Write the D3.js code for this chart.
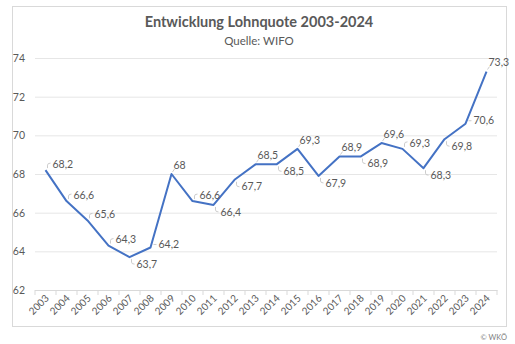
<!DOCTYPE html>
<html><head><meta charset="utf-8">
<script src="https://cdn.jsdelivr.net/npm/d3@7"></script>
<style>body{margin:0;background:#fff}svg{display:block}text{font-family:Lato,"Open Sans",sans-serif}</style>
</head><body><svg id="c" width="515" height="344"></svg>
<script>
const years = ["2003","2004","2005","2006","2007","2008","2009","2010","2011","2012","2013","2014","2015","2016","2017","2018","2019","2020","2021","2022","2023","2024"];
const lohnquote = [68.2,66.6,65.6,64.3,63.7,64.2,68,66.6,66.4,67.7,68.5,68.5,69.3,67.9,68.9,68.9,69.6,69.3,68.3,69.8,70.6,73.3];
const labelPlacement = ["ra","ra","ra","ra","rb","r","a","ra","rb","rb","a","rb","a","rb","a","rb","a","ra","rb","rb","r","a"];
const yTicks = [62,64,66,68,70,72,74];
const title = "Entwicklung Lohnquote 2003-2024";
const subtitle = "Quelle: WIFO";
const credit = "© WKÖ";

const svg = d3.select("#c");
const grey = "#595959";
svg.append("rect").attr("x",12.5).attr("y",6.5).attr("width",494).attr("height",320)
  .attr("fill","#fff").attr("stroke","#d9d9d9");

svg.append("text").attr("x",259).attr("y",27).attr("text-anchor","middle")
  .attr("font-size",14.5).attr("font-weight","bold").attr("fill",grey).text(title);
svg.append("text").attr("x",259).attr("y",45).attr("text-anchor","middle")
  .attr("font-size",11.5).attr("fill",grey).text(subtitle);

const x = d3.scaleBand().domain(years).range([35,497]);
const y = d3.scaleLinear().domain([62,74]).range([290,58]);

// gridlines
const gy = svg.append("g").attr("transform","translate(35,0)")
  .call(d3.axisLeft(y).tickValues(yTicks).tickSize(-462).tickFormat(d=>d).tickPadding(10));
gy.select(".domain").remove();
gy.selectAll(".tick line").attr("stroke","#e6e6e6");
gy.selectAll(".tick").filter(d=>d===62).select("line").attr("stroke","#d9d9d9");
gy.selectAll(".tick text").attr("fill",grey).attr("font-size",10.5).attr("font-family","Lato");

// x axis
const gx = svg.append("g").attr("transform","translate(0,290)")
  .call(d3.axisBottom(x).tickSizeInner(0).tickSizeOuter(0));
gx.select(".domain").attr("stroke","#d9d9d9");
gx.selectAll(".tick text").attr("fill",grey).attr("font-size",10).attr("font-family","Lato")
  .attr("text-anchor","end").attr("dy",null).attr("y",0)
  .attr("transform","translate(4,9) rotate(-45)");
// category boundary ticks
const bounds = years.map(d=>x(d)).concat([x(years[years.length-1])+x.bandwidth()]);
svg.append("g").selectAll("line").data(bounds).join("line")
  .attr("x1",d=>d).attr("x2",d=>d).attr("y1",290).attr("y2",295).attr("stroke","#d9d9d9");

const px = (d,i)=>x(years[i])+x.bandwidth()/2;
const line = d3.line().x((d,i)=>px(d,i)).y(d=>y(d));
svg.append("path").datum(lohnquote).attr("d",line).attr("fill","none")
  .attr("stroke","#4472C4").attr("stroke-width",2).attr("stroke-linejoin","round");

const fmt = v => String(v).replace(".",",");
const off = {ra:[7,-6], rb:[7,7], r:[8,-3], a:[2,-9]};
const lab = svg.append("g");
lohnquote.forEach((v,i)=>{
  const cx = px(v,i), cy = y(v), p = labelPlacement[i], o = off[p];
  let d;
  if(p==="ra") d=`M${cx+2},${cy-2}L${cx+2},${cy-5}Q${cx+2},${cy-7} ${cx+5},${cy-7}`;
  else if(p==="rb") d=`M${cx+2},${cy+2}L${cx+2},${cy+5}Q${cx+2},${cy+7} ${cx+5},${cy+7}`;
  else if(p==="r") d=`M${cx+3},${cy-3}L${cx+6},${cy-3}`;
  else d=`M${cx+1},${cy-2}L${cx+3},${cy-5}`;
  lab.append("path").attr("d",d).attr("fill","none").attr("stroke","#bfbfbf").attr("stroke-width",0.8);
  lab.append("text").attr("x",cx+o[0]).attr("y",cy+o[1]).attr("dy","0.35em")
    .attr("font-size",10.5).attr("fill",grey).text(fmt(v));
});

svg.append("text").attr("x",507).attr("y",340).attr("text-anchor","end")
  .attr("font-size",7.5).attr("fill","#7f7f7f").text(credit);
</script></body></html>
